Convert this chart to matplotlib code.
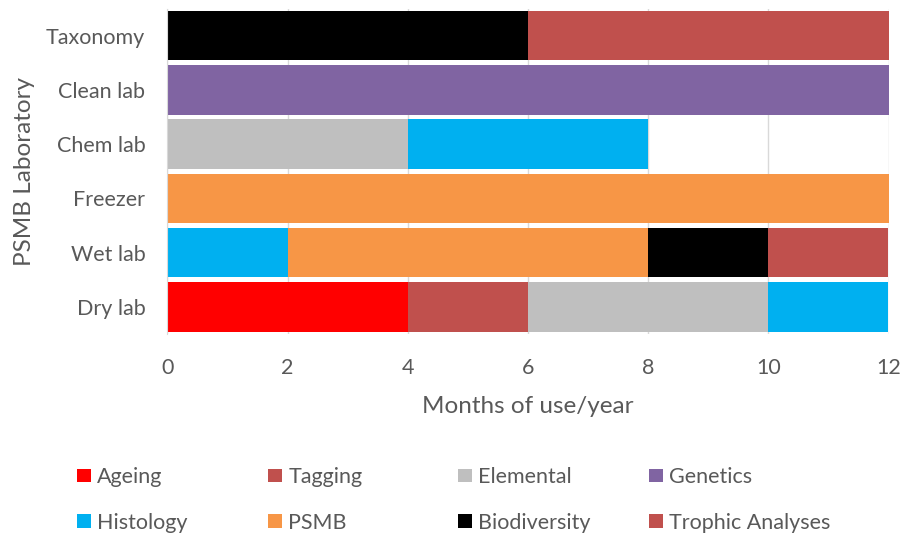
import matplotlib
matplotlib.use("Agg")
import matplotlib.pyplot as plt
import numpy as np

# labs, bottom to top
labs = ["Dry lab", "Wet lab", "Freezer", "Chem lab", "Clean lab", "Taxonomy"]

# months of use per year for each activity, one value per lab
ageing = [4, 0, 0, 0, 0, 0]
tagging = [2, 0, 0, 0, 0, 0]
elemental = [4, 0, 0, 4, 0, 0]
genetics = [0, 0, 0, 0, 12, 0]
histology = [2, 2, 0, 4, 0, 0]
psmb = [0, 6, 12, 0, 0, 0]
biodiversity = [0, 2, 0, 0, 0, 6]
trophic = [0, 2, 0, 0, 0, 6]

series_names = ["Ageing", "Tagging", "Elemental", "Genetics",
                "Histology", "PSMB", "Biodiversity", "Trophic Analyses"]
series_values = [ageing, tagging, elemental, genetics,
                 histology, psmb, biodiversity, trophic]
series_colors = ["#FF0000", "#C0504D", "#BFBFBF", "#8064A2",
                 "#00B0F0", "#F79646", "#000000", "#C0504D"]

x_ticks = [0, 2, 4, 6, 8, 10, 12]

TEXT = "#595959"
plt.rcParams["font.family"] = ["Lato", "DejaVu Sans"]

fig = plt.figure(figsize=(9.04, 5.35), dpi=100)
ax = fig.add_axes([167.5 / 904, 1 - 334 / 535, 721 / 904, 325.5 / 535])

ypos = np.arange(len(labs))
left = np.zeros(len(labs))
handles = []
for name, vals, col in zip(series_names, series_values, series_colors):
    vals = np.array(vals, dtype=float)
    b = ax.barh(ypos, vals, left=left, height=0.91, color=col, label=name, zorder=3)
    handles.append(b)
    left += vals

ax.set_xlim(0, 12)
ax.set_ylim(-0.5, len(labs) - 0.5)
ax.set_xticks(x_ticks)
ax.set_yticks(ypos)
ax.set_yticklabels(labs)
ax.tick_params(axis="both", length=0, labelsize=15.5, colors=TEXT)
ax.tick_params(axis="x", pad=17)
ax.tick_params(axis="y", pad=16)
ax.xaxis.grid(True, color="#D9D9D9", linewidth=1, zorder=0)
ax.set_axisbelow(True)
for s in ["top", "right", "bottom"]:
    ax.spines[s].set_visible(False)
ax.spines["left"].set_color("#D9D9D9")
ax.spines["left"].set_zorder(4)

ax.set_xlabel("Months of use/year", fontsize=17.5, color=TEXT, labelpad=13)
ax.set_ylabel("PSMB Laboratory", fontsize=17.5, color=TEXT, labelpad=8)

# legend: 4 columns, two rows
col_x = [77, 268, 458, 649]
for i, x in enumerate(col_x):
    pair = [handles[i], handles[i + 4]]
    leg = fig.legend(pair, [series_names[i], series_names[i + 4]],
                     loc="center left", bbox_to_anchor=(x / 904, 1 - 500 / 535),
                     frameon=False, fontsize=15.5, borderpad=0, borderaxespad=0,
                     handlelength=0.66, handleheight=0.62, handletextpad=0.28,
                     labelspacing=1.2, labelcolor=TEXT)

fig.savefig("out.png", dpi=100)
